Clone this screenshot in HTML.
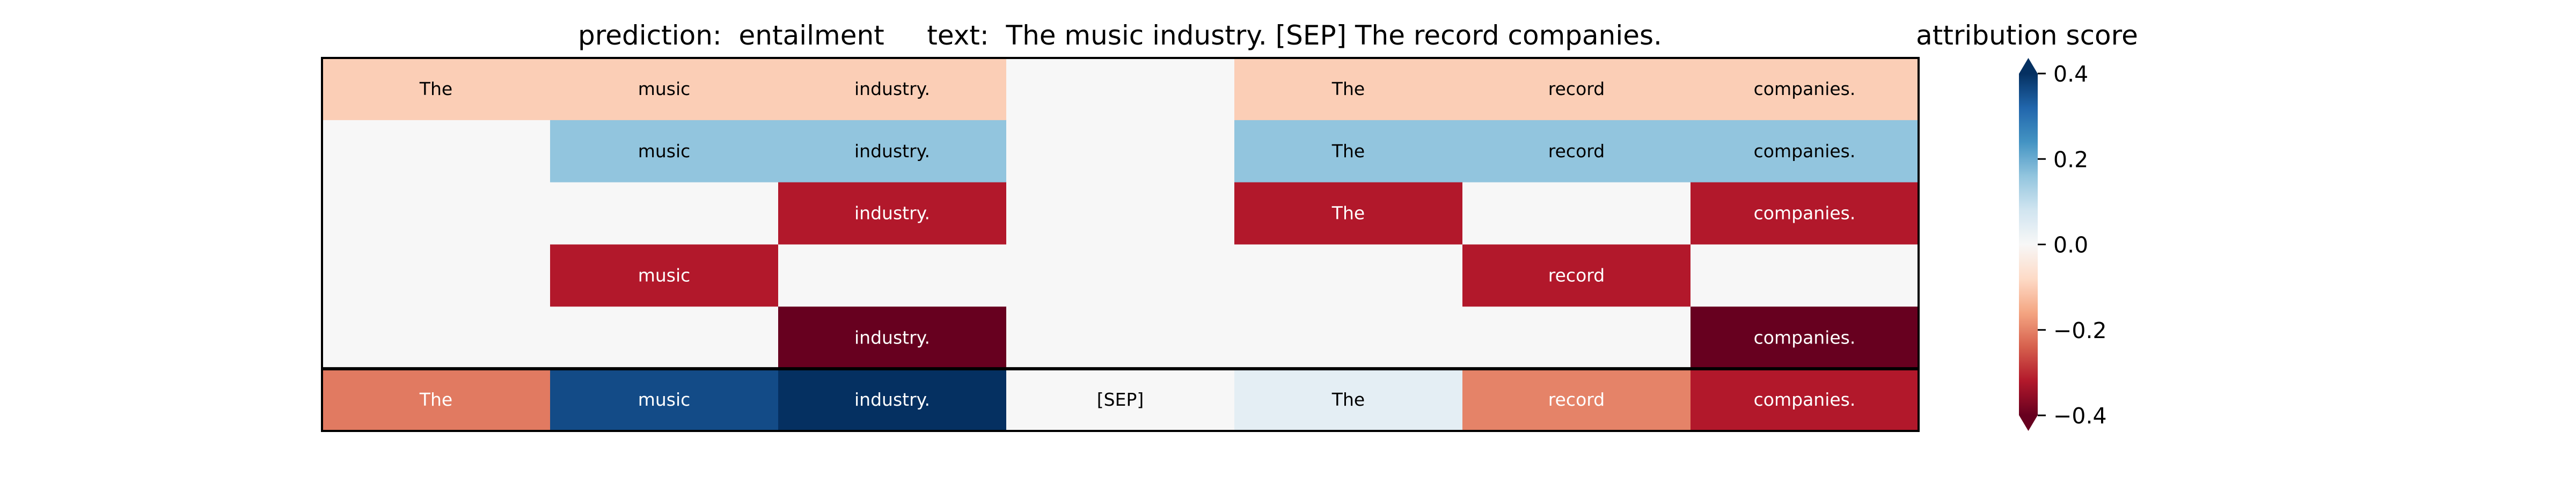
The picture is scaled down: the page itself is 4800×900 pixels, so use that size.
<!DOCTYPE html>
<html><head><meta charset="utf-8"><style>
html,body{margin:0;padding:0;background:#fff;}
svg{display:block;font-family:"DejaVu Sans","Liberation Sans",sans-serif;}
</style></head><body>
<svg id="chart" width="4800" height="900" viewBox="0 0 4800 900" xmlns="http://www.w3.org/2000/svg">
<defs>
<linearGradient id="cbgrad" x1="0" y1="1" x2="0" y2="0"></linearGradient>
</defs>
<text x="2087" y="83" text-anchor="middle" font-size="50" xml:space="preserve">prediction:  entailment     text:  The music industry. [SEP] The record companies.</text>
<text x="3777" y="83" text-anchor="middle" font-size="50">attribution score</text>
<g id="cells"></g>
<g id="frame"></g>
<g id="cbar"></g>
</svg>
<script>
const tokens = ["The","music","industry.","[SEP]","The","record","companies."];
const rowLabels = [
  ["The","music","industry.","","The","record","companies."],
  ["","music","industry.","","The","record","companies."],
  ["","","industry.","","The","","companies."],
  ["","music","","","","record",""],
  ["","","industry.","","","","companies."],
  ["The","music","industry.","[SEP]","The","record","companies."]
];
const values = [
  [-0.1,-0.1,-0.1,0,-0.1,-0.1,-0.1],
  [0,0.16,0.16,0,0.16,0.16,0.16],
  [0,0,-0.32,0,-0.32,0,-0.32],
  [0,-0.32,0,0,0,-0.32,0],
  [0,0,-0.42,0,0,0,-0.42],
  [-0.21,0.36,0.4,0,0.04,-0.2,-0.32]
];
const cbTicks = [0.4,0.2,0.0,-0.2,-0.4];
const cbTickLabels = ["0.4","0.2","0.0","\u22120.2","\u22120.4"];

const vmin=-0.4, vmax=0.4;
const stops=["#67001f","#b2182b","#d6604d","#f4a582","#fddbc7","#f7f7f7","#d1e5f0","#92c5de","#4393c3","#2166ac","#053061"];
function hex(h){return [1,3,5].map(i=>parseInt(h.substr(i,2),16));}
function cmap(v){
  let t=(v-vmin)/(vmax-vmin); t=Math.max(0,Math.min(1,t));
  const p=t*(stops.length-1), i=Math.min(Math.floor(p),stops.length-2), f=p-i;
  const a=hex(stops[i]), b=hex(stops[i+1]);
  const c=a.map((x,k)=>Math.round(x+(b[k]-x)*f));
  return {css:`rgb(${c[0]},${c[1]},${c[2]})`, lum:(0.299*c[0]+0.587*c[1]+0.114*c[2])};
}
const NS="http://www.w3.org/2000/svg";
const X0=600, X1=3575, Y0=108, Y1=803;
const nCols=tokens.length, nRows=values.length;
const cw=(X1-X0)/nCols, rh=(Y1-Y0)/nRows;
const xPos=j=>X0+j*cw, yPos=i=>Y0+i*rh;
const cells=document.getElementById('cells');
for(let i=0;i<nRows;i++){for(let j=0;j<nCols;j++){
  const c=cmap(values[i][j]);
  const r=document.createElementNS(NS,'rect');
  r.setAttribute('x',xPos(j));r.setAttribute('y',yPos(i));
  r.setAttribute('width',cw+0.5);r.setAttribute('height',rh+0.5);
  r.setAttribute('fill',c.css);
  
  
  cells.appendChild(r);
  if(rowLabels[i][j]){
    const t=document.createElementNS(NS,'text');
    t.setAttribute('x',xPos(j)+cw/2);t.setAttribute('y',yPos(i)+rh/2+11);
    t.setAttribute('text-anchor','middle');t.setAttribute('font-size','33');
    t.setAttribute('fill',c.lum<170?'#fff':'#000');
    t.textContent=rowLabels[i][j];
    
    
    cells.appendChild(t);
  }
}}
const frame=document.getElementById('frame');
const fr=document.createElementNS(NS,'rect');
fr.setAttribute('x',X0);fr.setAttribute('y',Y0);fr.setAttribute('width',X1-X0);fr.setAttribute('height',Y1-Y0);
fr.setAttribute('fill','none');fr.setAttribute('stroke','#000');fr.setAttribute('stroke-width','4');


frame.appendChild(fr);
const dl=document.createElementNS(NS,'line');
dl.setAttribute('x1',X0);dl.setAttribute('x2',X1);dl.setAttribute('y1',yPos(nRows-1));dl.setAttribute('y2',yPos(nRows-1));
dl.setAttribute('stroke','#000');dl.setAttribute('stroke-width','6');


frame.appendChild(dl);

const grad=document.getElementById('cbgrad');
for(let k=0;k<=40;k++){const s=document.createElementNS(NS,'stop');s.setAttribute('offset',k/40);s.setAttribute('stop-color',cmap(vmin+(vmax-vmin)*k/40).css);grad.appendChild(s);}
const CX0=3762, CX1=3797, CT=137, CB=774, ARR=29;
const cy=v=>CB-(v-vmin)/(vmax-vmin)*(CB-CT);
const cbar=document.getElementById('cbar');
const cr=document.createElementNS(NS,'rect');
cr.setAttribute('x',CX0);cr.setAttribute('y',CT);cr.setAttribute('width',CX1-CX0);cr.setAttribute('height',CB-CT);
cr.setAttribute('fill','url(#cbgrad)');


cbar.appendChild(cr);
const up=document.createElementNS(NS,'polygon');
up.setAttribute('points',`${CX0},${CT+0.5} ${CX1},${CT+0.5} ${(CX0+CX1)/2},${CT-ARR}`);
up.setAttribute('fill',cmap(1).css);


cbar.appendChild(up);
const dn=document.createElementNS(NS,'polygon');
dn.setAttribute('points',`${CX0},${CB-0.5} ${CX1},${CB-0.5} ${(CX0+CX1)/2},${CB+ARR}`);
dn.setAttribute('fill',cmap(-1).css);


cbar.appendChild(dn);
cbTicks.forEach((v,k)=>{
  const y=cy(v);
  const l=document.createElementNS(NS,'line');
  l.setAttribute('x1',CX1);l.setAttribute('x2',CX1+15);l.setAttribute('y1',y);l.setAttribute('y2',y);
  l.setAttribute('stroke','#000');l.setAttribute('stroke-width','3');
  
  
  cbar.appendChild(l);
  const t=document.createElementNS(NS,'text');
  t.setAttribute('x',3826);t.setAttribute('y',y+15);t.setAttribute('font-size','41');
  t.textContent=cbTickLabels[k];
  
  
  cbar.appendChild(t);
});
</script>
</body></html>
